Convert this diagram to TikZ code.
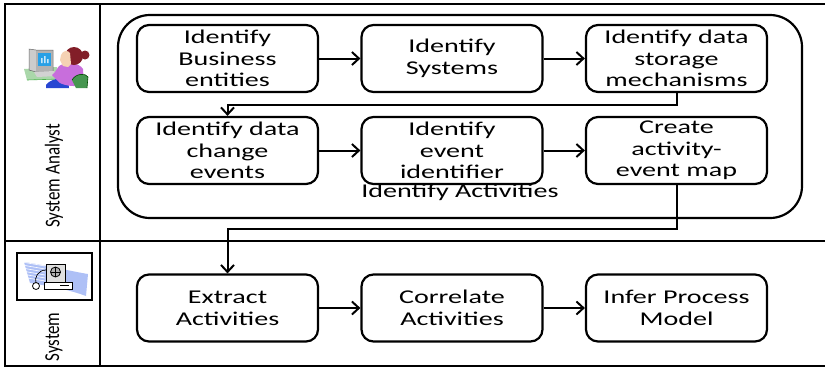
\documentclass[tikz,border=0pt]{standalone}
\usepackage{fontspec}
\setmainfont[FakeStretch=1.44]{Carlito}
\newfontfamily\lanefont{Carlito}
\usetikzlibrary{positioning, arrows.meta}

\definecolor{deskgreen}{RGB}{170,215,170}
\definecolor{screenblue}{RGB}{40,160,230}
\definecolor{hairred}{RGB}{130,30,40}
\definecolor{skin}{RGB}{245,210,180}
\definecolor{shirt}{RGB}{200,110,220}
\definecolor{chair}{RGB}{70,150,80}
\definecolor{skirt}{RGB}{40,70,210}
\definecolor{swoosh}{RGB}{120,150,240}

\tikzset{
  actbox/.style={draw, line width=2.2pt, rounded corners=12pt,
    minimum width=181pt, minimum height=67pt, inner sep=0pt,
    align=center, font=\fontsize{19.5}{21.7}\selectfont},
  flow/.style={line width=2pt, -{Straight Barb[length=7pt,width=13pt]}},
  lane/.style={line width=2.6pt},
  lanetitle/.style={font=\lanefont\fontsize{17}{20}\selectfont}
}

\begin{document}
\begin{tikzpicture}[x=1pt, y=-1pt]
  \useasboundingbox (0,0) rectangle (825,368);

  % swim lanes
  \draw[lane] (825,4) -| (5,366) -- (825,366);
  \draw[lane] (100,4) -- (100,366);
  \draw[lane] (5,241) -- (825,241);
  \node[lanetitle, rotate=90] (analyst) at (54,176) {\scalebox{1}[1.25]{System Analyst}};
  \node[lanetitle, rotate=90] (system) at (54,337) {\scalebox{1}[1.25]{System}};

  % analyst at the desk
  \fill[deskgreen] (24,69) -- (57,67) -- (61,79) -- (27,80) -- cycle;
  \draw[green!40!gray, line width=0.6pt] (27,80) -- (61,79);
  \fill[gray!40] (29,49) -- (36,50) -- (36,72) -- (29,70) -- cycle;
  \fill[gray!60] (36,50) rectangle (53,72);
  \draw[gray!80!black, line width=0.5pt] (29,49) -- (36,50) -- (53,50) -- (53,72) -- (36,72) -- (29,70) -- cycle;
  \fill[screenblue] (38,53) rectangle (51,66);
  \fill[white!75!screenblue] (41,63) rectangle (42.5,58) (44,63) rectangle (45.5,56) (47,63) rectangle (48.5,59);
  \fill[gray!35] (34,72) -- (54,71) -- (57,76) -- (37,77) -- cycle;
  \fill[skirt] (46,85) .. controls (50,79) and (62,77) .. (68,79) -- (69,88) -- (46,88) -- cycle;
  \fill[shirt] (59,66) .. controls (65,62) and (79,62) .. (83,69) -- (84,85) .. controls (75,87) and (66,86) .. (60,83) -- (52,75) -- (55,72) -- cycle;
  \fill[chair] (72,80) .. controls (76,73) and (86,73) .. (88,77) -- (87,88) -- (76,88) -- cycle;
  \draw[green!30!black, line width=0.6pt] (72,80) .. controls (76,73) and (86,73) .. (88,77) -- (87,88);
  \fill[hairred] (74,56) circle (9);
  \fill[hairred] (85,55) circle (4.5);
  \fill[skin] (61,55) .. controls (63,50) and (68,50) .. (70,53) -- (71,64) -- (68,67) -- (63,66) -- (60,60) -- cycle;

  % computer
  \draw[line width=2pt] (17,253) rectangle (92,300);
  \fill[swoosh!60] (24,262) .. controls (50,266) and (75,272) .. (88,274) -- (86,296) .. controls (70,290) and (50,286) .. (30,283) -- cycle;
  \foreach \k in {0,3,...,15}
    \draw[white, line width=0.6pt] (22,262+\k) -- (45,266+\k);
  \fill[gray!25] (46,264) rectangle (65,282);
  \draw[line width=0.8pt] (46,264) rectangle (65,282);
  \draw[line width=0.8pt, fill=gray!60] (55.5,272) circle (5);
  \draw[line width=0.5pt] (50.5,272) -- (60.5,272) (55.5,267) -- (55.5,277);
  \fill[white] (44,282) rectangle (72,289);
  \draw[line width=0.8pt] (44,282) rectangle (72,289);
  \draw[line width=0.6pt] (60,285.5) -- (69,285.5);
  \draw[line width=0.7pt] (46,270) .. controls (38,270) and (34,278) .. (36,283);
  \draw[line width=0.8pt, fill=white] (36,286) circle (3.5);

  % Identify Activities
  \node[draw, line width=2.2pt, rounded corners=32pt, minimum width=684pt,
    minimum height=203pt] (acts) at (460,116.5) {};
  \node[font=\fontsize{19.5}{21.7}\selectfont] (actslabel) at (460,192) {Identify Activities};

  \node[actbox] (b1) at (227.5,58.5) {Identify\\Business\\entities};
  \node[actbox] (b2) at (452,58.5) {Identify\\Systems};
  \node[actbox] (b3) at (676.5,58.5) {Identify data\\storage\\mechanisms};
  \node[actbox] (c1) at (227.5,150.5) {Identify data\\change\\events};
  \node[actbox] (c2) at (452,150.5) {Identify\\event\\identifier};
  \node[actbox] (c3) at (676.5,150.5) {Create\\activity-\\event map};

  \node[actbox] (d1) at (227.5,308) {Extract\\Activities};
  \node[actbox] (d2) at (452,308) {Correlate\\Activities};
  \node[actbox] (d3) at (676.5,308) {Infer Process\\Model};

  \draw[flow] (b1) -- (b2);
  \draw[flow] (b2) -- (b3);
  \draw[flow] (b3.south) -- ++(0,12) -| (c1.north);
  \draw[flow] (c1) -- (c2);
  \draw[flow] (c2) -- (c3);
  \draw[flow] (c3.south) -- ++(0,44) -| (d1.north);
  \draw[flow] (d1) -- (d2);
  \draw[flow] (d2) -- (d3);
\end{tikzpicture}
\end{document}
